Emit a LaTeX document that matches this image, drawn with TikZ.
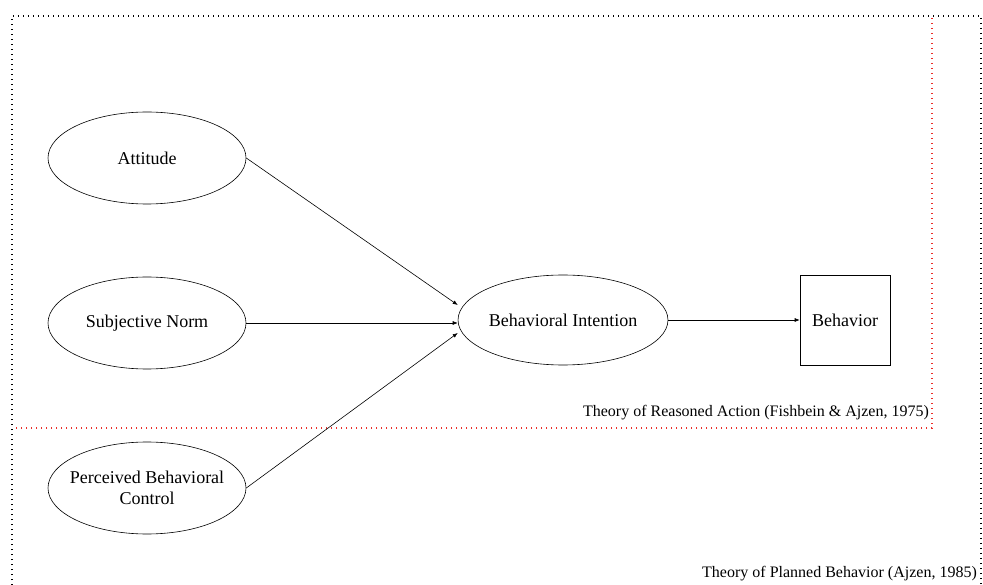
\documentclass[tikz,border=0pt]{standalone}
\usepackage{fontspec}
\setmainfont{Liberation Serif}
\usetikzlibrary{shapes.geometric,arrows.meta}
\definecolor{traframe}{RGB}{235,45,40}
\begin{document}
\begin{tikzpicture}[x=1pt,y=-1pt,
  construct/.style={draw,ellipse,line width=0.6pt,minimum width=198pt,minimum height=92pt,inner sep=0pt,align=center,font=\fontsize{18}{21}\selectfont},
  outcome/.style={draw,rectangle,line width=0.6pt,minimum width=90pt,minimum height=90pt,inner sep=0pt,font=\fontsize{18}{21}\selectfont},
  link/.style={-{Latex[length=5pt,width=4pt]},line width=0.6pt},
  framedots/.style={line width=1.4pt,dash pattern=on 1.4pt off 3.6pt},
  caption/.style={anchor=east,inner sep=0pt,font=\fontsize{16}{19}\selectfont}]
\useasboundingbox (0,0) rectangle (983,585);
% outer frame: Theory of Planned Behavior
\draw[framedots,black] (12,585) -- (12,16) -- (981,16) -- (981,585);
% inner frame: Theory of Reasoned Action
\draw[framedots,traframe] (932,18) -- (932,428) -- (16,428);
% constructs
\node[construct] (att) at (147,158) {Attitude};
\node[construct] (sn) at (147,323) {Subjective Norm};
\node[construct,inner xsep=-14pt,inner ysep=-6pt] (pbc) at (147,488) {Perceived Behavioral\\Control};
\node[construct,minimum height=90pt] (bi) at (563,320) {Behavioral Intention};
\node[outcome] (beh) at (845,320) {Behavior};
% paths
\draw[link] (att.east) -- (bi.west |- 0,305);
\draw[link] (sn.east) -- (bi.west |- sn.east);
\draw[link] (pbc.east) -- (bi.west |- 0,333);
\draw[link] (bi.east) -- (beh.west);
% theory labels
\node[caption] (tra) at (929,413) {Theory of Reasoned Action (Fishbein \& Ajzen, 1975)};
\node[caption] (tpb) at (977,574) {Theory of Planned Behavior (Ajzen, 1985)};
\end{tikzpicture}
\end{document}
